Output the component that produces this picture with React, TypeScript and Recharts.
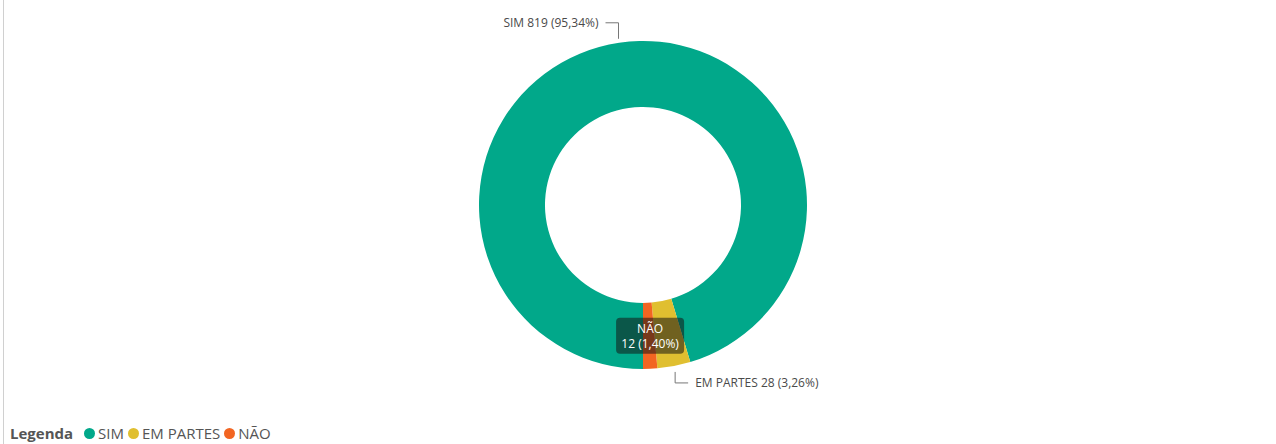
import { PieChart, Pie, Cell, Legend } from 'recharts';

const categories = ['SIM', 'EM PARTES', 'NÃO'];
const counts = [819, 28, 12];
const percentLabels = ['95,34%', '3,26%', '1,40%'];
const colors = ['#01A88A', '#E0BF30', '#F26522'];

const chartData = categories.map((name, i) => ({
  name,
  value: counts[i],
  pct: percentLabels[i],
  color: colors[i],
}));

const FONT = '"Open Sans", "Noto Sans", sans-serif';
const RADIAN = Math.PI / 180;

function SliceLabel(props: any) {
  const { cx, cy, midAngle, outerRadius, index } = props;
  const d = chartData[index];
  const cos = Math.cos(-midAngle * RADIAN);
  const sin = Math.sin(-midAngle * RADIAN);

  if (index === 0) {
    const sx = cx + (outerRadius + 4) * cos;
    const sy = cy + (outerRadius + 4) * sin;
    const ey = sy - 16;
    const ex = sx - 13;
    return (
      <g>
        <polyline points={`${sx},${sy} ${sx},${ey} ${ex},${ey}`} fill="none" stroke="#777" strokeWidth={1} />
        <text x={ex - 7} y={ey} dy={4} textAnchor="end" fill="#4a4a4a" fontSize={12} fontFamily={FONT}>
          {`${d.name} ${d.value} (${d.pct})`}
        </text>
      </g>
    );
  }
  if (index === 1) {
    const sx = cx + (outerRadius + 6) * cos;
    const sy = cy + (outerRadius + 6) * sin;
    const ey = sy + 11;
    const ex = sx + 13;
    return (
      <g>
        <polyline points={`${sx},${sy} ${sx},${ey} ${ex},${ey}`} fill="none" stroke="#777" strokeWidth={1} />
        <text x={ex + 7} y={ey} dy={4} textAnchor="start" fill="#4a4a4a" fontSize={12} fontFamily={FONT}>
          {`${d.name} ${d.value} (${d.pct})`}
        </text>
      </g>
    );
  }
  // hover-style box for the small slice
  const r = outerRadius - 25;
  const bx = cx + r * cos - 3;
  const by = cy + r * sin - 9;
  return (
    <g>
      <rect x={bx - 30} y={by - 17} width={68} height={36} rx={4} fill="rgba(20,20,20,0.55)" />
      <text x={bx + 4} y={by - 2} textAnchor="middle" fill="#fff" fontSize={12} fontFamily={FONT}>
        {d.name}
      </text>
      <text x={bx + 4} y={by + 13} textAnchor="middle" fill="#fff" fontSize={12} fontFamily={FONT}>
        {`${d.value} (${d.pct})`}
      </text>
    </g>
  );
}

function LegendContent() {
  return (
    <div style={{ display: 'flex', alignItems: 'center', fontFamily: FONT, fontSize: 15, color: '#555' }}>
      <span style={{ fontWeight: 700, marginRight: 11 }}>Legenda</span>
      {chartData.map((d) => (
        <span key={d.name} style={{ display: 'flex', alignItems: 'center', marginRight: 4 }}>
          <span style={{ width: 11, height: 11, borderRadius: 6, background: d.color, marginRight: 3 }} />
          {d.name}
        </span>
      ))}
    </div>
  );
}

export default function App() {
  return (
    <div style={{ position: 'absolute', left: 0, top: 0, width: 1276, height: 444, background: '#fff' }}>
      <div style={{ position: 'absolute', left: 3, top: 0, width: 1, height: 444, background: '#d0d0d0' }} />
      <PieChart width={1276} height={444} margin={{ top: 0, right: 0, bottom: 0, left: 0 }}>
        <Pie
          data={chartData}
          dataKey="value"
          nameKey="name"
          cx={643}
          cy={205}
          innerRadius={98}
          outerRadius={164}
          startAngle={270}
          endAngle={-90}
          stroke="none"
          label={SliceLabel}
          labelLine={false}
          isAnimationActive={false}
        >
          {chartData.map((entry, index) => (
            <Cell key={`cell-${index}`} fill={entry.color} />
          ))}
        </Pie>
        <Legend
          layout="horizontal"
          verticalAlign="bottom"
          align="left"
          wrapperStyle={{ left: 10, bottom: 1 }}
          content={<LegendContent />}
        />
      </PieChart>
    </div>
  );
}
